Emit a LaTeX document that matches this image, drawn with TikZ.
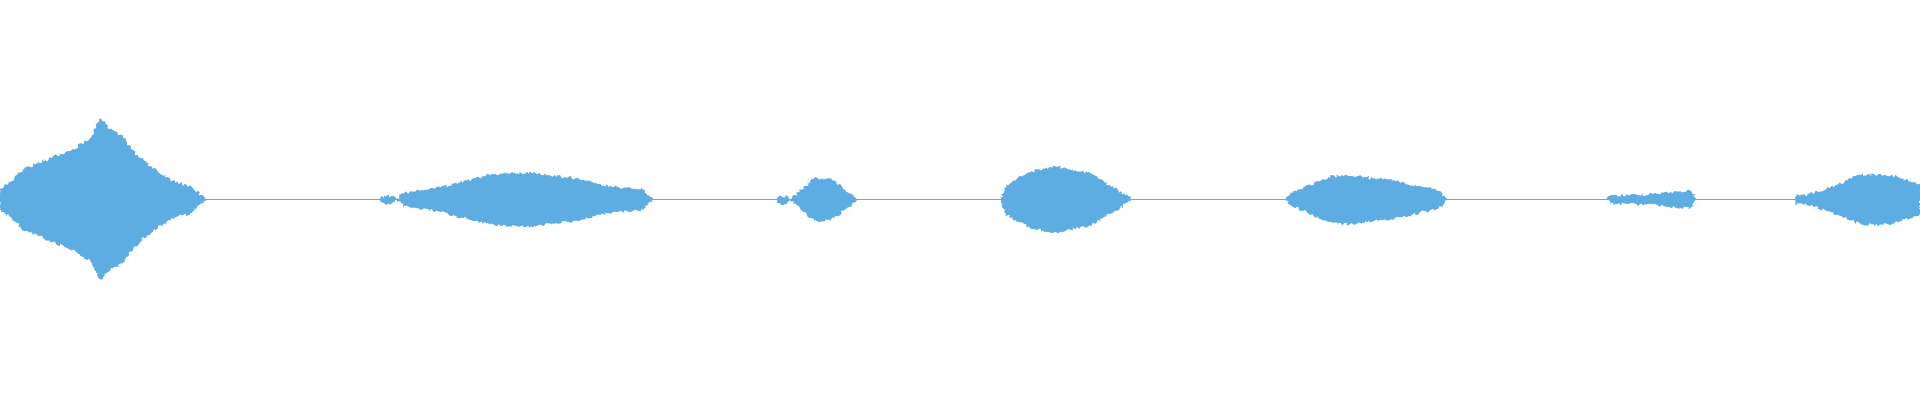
\documentclass[tikz,border=0pt]{standalone}
\usetikzlibrary{decorations.pathmorphing}
\definecolor{wave}{HTML}{5DADE2}
\begin{document}
\begin{tikzpicture}[x=1.2245pt,y=-1.2245pt,
  blob/.style={fill=wave,draw=wave,line width=0.4pt,decorate,decoration={random steps,segment length=1.5pt,amplitude=1.6pt}}]
\pgfmathsetseed{7}
\useasboundingbox (0,0) rectangle (1568,326.7);
\draw[wave,line width=0.9pt] (0,163) -- (1568,163);
\newcommand\wv[1]{%
  \path[blob] plot[smooth] coordinates {#1};}
% segment 1
\path[blob] (0,155) -- (10,148) -- (20,138) -- (40,130) -- (60,122) -- (75,112) -- (82,97) -- (90,106) -- (100,112) -- (110,125) -- (125,138) -- (140,148) -- (155,152) -- (168,163)
 -- (155,174) -- (140,178) -- (125,188) -- (110,201) -- (100,214) -- (90,220) -- (82,228) -- (75,214) -- (60,204) -- (40,196) -- (20,188) -- (10,178) -- (0,171) -- cycle;
% segment 2
\path[blob] (310,163) -- (314,160) -- (320,160) -- (324,163) -- (320,166) -- (314,166) -- cycle;
\path[blob] (324,163) -- (330,158) -- (360,153) -- (400,143) -- (430,141) -- (470,146) -- (500,153) -- (525,155) -- (533,163)
 -- (525,171) -- (500,173) -- (470,180) -- (430,185) -- (400,183) -- (360,173) -- (330,168) -- cycle;
% segment 3
\path[blob] (635,163) -- (636,160) -- (643,160) -- (645,163) -- (643,166) -- (636,166) -- cycle;
\path[blob] (645,163) -- (655,155) -- (665,146) -- (678,146) -- (690,155) -- (700,163) -- (690,171) -- (678,180) -- (665,180) -- (655,171) -- cycle;
% segment 4
\path[blob] (818,163) -- (822,151) -- (840,141) -- (860,136) -- (890,142) -- (910,154) -- (925,163)
 -- (910,172) -- (890,184) -- (860,190) -- (840,185) -- (822,175) -- cycle;
% segment 5
\path[blob] (1050,163) -- (1055,158) -- (1085,145) -- (1100,143) -- (1140,148) -- (1175,156) -- (1182,163)
 -- (1175,170) -- (1140,178) -- (1100,183) -- (1085,181) -- (1055,168) -- cycle;
% segment 6
\path[blob] (1312,163) -- (1315,160) -- (1350,159) -- (1380,156) -- (1386,163) -- (1380,170) -- (1350,167) -- (1315,166) -- cycle;
% segment 7
\path[blob] (1465,163) -- (1467,159) -- (1475,160) -- (1495,153) -- (1520,143) -- (1545,143) -- (1568,151)
 -- (1568,175) -- (1545,183) -- (1520,183) -- (1495,173) -- (1475,166) -- (1467,167) -- cycle;
\end{tikzpicture}
\end{document}
